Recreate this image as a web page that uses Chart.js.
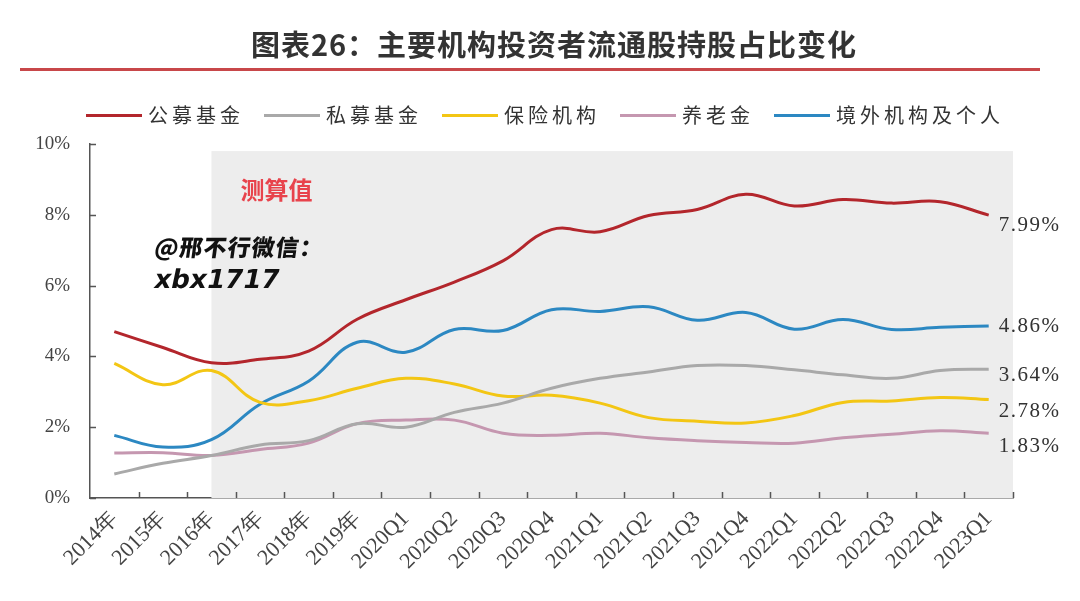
<!DOCTYPE html>
<html>
<head>
<meta charset="utf-8">
<script src="https://cdn.jsdelivr.net/npm/chart.js@4.4.1/dist/chart.umd.min.js"></script>
<style>
  html, body { margin:0; padding:0; background:#ffffff; }
  #wrap { position:relative; width:1080px; height:601px; overflow:hidden; }
  #c { position:absolute; left:0; top:0; }
  #title { position:absolute; left:14px; top:22px; width:1080px; text-align:center;
    font-family:"Noto Sans CJK SC"; font-weight:700; font-size:29px; color:#333; letter-spacing:1px; }
  #rule { position:absolute; left:20px; top:68px; width:1020px; height:3px; background:#c8474a; }
  #legend { position:absolute; left:0; top:102px; width:1090px; display:flex; justify-content:center; align-items:center;
    font-family:"Noto Sans CJK SC"; font-size:20px; color:#333; }
  .li { display:flex; align-items:center; margin:0 10px; }
  .ln { width:56px; height:3px; margin-right:6px; }
  .lt { letter-spacing:4px; line-height:26px; }
  .wm1 { position:absolute; left:155px; top:229px; font-family:"Noto Sans CJK SC"; font-weight:900; font-size:23px; color:#111;
    transform:skewX(-8deg); letter-spacing:1px; }
  .wm2 { position:absolute; left:155px; top:264px; font-family:"DejaVu Sans"; font-weight:900; font-size:26px; color:#111;
    transform:skewX(-12deg); letter-spacing:0px; }
</style>
</head>
<body>
<div id="wrap">
  <canvas id="c" width="1080" height="601"></canvas>
  <div id="title">图表26：主要机构投资者流通股持股占比变化</div>
  <div id="rule"></div>
  <div id="legend"></div>
  <div class="wm1">@邢不行微信：</div>
  <div class="wm2">xbx1717</div>
</div>
<script>
const categories = ['2014年','2015年','2016年','2017年','2018年','2019年','2020Q1','2020Q2','2020Q3','2020Q4','2021Q1','2021Q2','2021Q3','2021Q4','2022Q1','2022Q2','2022Q3','2022Q4','2023Q1'];
const seriesNames = ['公募基金','私募基金','保险机构','养老金','境外机构及个人'];
const publicFund  = [4.70, 4.25, 3.82, 3.92, 4.15, 5.05, 5.60, 6.10, 6.70, 7.58, 7.52, 7.98, 8.15, 8.58, 8.25, 8.43, 8.33, 8.37, 7.99];
const privateFund = [0.68, 0.98, 1.20, 1.50, 1.62, 2.10, 2.00, 2.42, 2.68, 3.10, 3.38, 3.56, 3.74, 3.74, 3.62, 3.48, 3.38, 3.60, 3.64];
const insurance   = [3.80, 3.20, 3.60, 2.70, 2.75, 3.10, 3.38, 3.22, 2.88, 2.90, 2.68, 2.27, 2.17, 2.12, 2.33, 2.70, 2.74, 2.84, 2.78];
const pension     = [1.27, 1.28, 1.20, 1.37, 1.55, 2.10, 2.20, 2.20, 1.83, 1.77, 1.83, 1.70, 1.62, 1.57, 1.55, 1.70, 1.80, 1.90, 1.83];
const foreignInv  = [1.77, 1.44, 1.65, 2.65, 3.30, 4.40, 4.12, 4.76, 4.73, 5.32, 5.27, 5.40, 5.02, 5.24, 4.77, 5.04, 4.76, 4.82, 4.86];
const yTicks = [0, 2, 4, 6, 8, 10];
const estimateLabel = '测算值';
const estimateStartIndex = 2;

const colors = ['#b3262c', '#a9a9a9', '#f3c614', '#c597b0', '#2c88c2'];
const endLabelOffsets = [10, 6, 12, 13, 1];
const seriesData = [publicFund, privateFund, insurance, pension, foreignInv];

const serif = '"Liberation Serif", "DejaVu Serif", serif';

const shadePlugin = {
  id: 'shade',
  beforeDatasetsDraw(chart) {
    const {ctx, chartArea, scales} = chart;
    const x0 = scales.x.getPixelForValue(estimateStartIndex);
    const yTop = scales.y.getPixelForValue(9.8);
    ctx.save();
    ctx.fillStyle = '#ededed';
    ctx.fillRect(x0, yTop, chartArea.right - x0, chartArea.bottom - yTop);
    ctx.fillStyle = '#e8434c';
    ctx.font = 'bold 24px "Noto Sans CJK SC"';
    ctx.textBaseline = 'middle';
    ctx.fillText(estimateLabel, x0 + 29, scales.y.getPixelForValue(8.7));
    ctx.restore();
  }
};

const tickPlugin = {
  id: 'innerTicks',
  afterDraw(chart) {
    const {ctx, chartArea, scales} = chart;
    ctx.save();
    ctx.strokeStyle = '#555';
    ctx.lineWidth = 1.5;
    ctx.beginPath();
    yTicks.forEach(v => {
      const py = Math.round(scales.y.getPixelForValue(v)) + 0.5;
      ctx.moveTo(chartArea.left, py);
      ctx.lineTo(chartArea.left + 6, py);
    });
    const n = categories.length;
    for (let i = 0; i < n; i++) {
      const px = i < n - 1
        ? (scales.x.getPixelForValue(i) + scales.x.getPixelForValue(i + 1)) / 2
        : chartArea.right;
      ctx.moveTo(Math.round(px) + 0.5, chartArea.bottom);
      ctx.lineTo(Math.round(px) + 0.5, chartArea.bottom - 6);
    }
    ctx.stroke();
    ctx.restore();
  }
};

const endLabelPlugin = {
  id: 'endLabels',
  afterDatasetsDraw(chart) {
    const {ctx} = chart;
    ctx.save();
    ctx.font = '21px ' + serif;
    ctx.fillStyle = '#333';
    ctx.textBaseline = 'middle';
    chart.data.datasets.forEach((ds, i) => {
      const meta = chart.getDatasetMeta(i);
      const last = meta.data[meta.data.length - 1];
      const v = ds.data[ds.data.length - 1];
      const txt = v.toFixed(2) + '%';
      ctx.letterSpacing = '1.5px';
      ctx.fillText(txt, last.x + 10, last.y + endLabelOffsets[i]);
    });
    ctx.restore();
  }
};

const chart = new Chart(document.getElementById('c'), {
  type: 'line',
  data: {
    labels: categories,
    datasets: seriesNames.map((name, i) => ({
      label: name,
      data: seriesData[i],
      borderColor: colors[i],
      backgroundColor: colors[i],
      borderWidth: 3,
      pointRadius: 0,
      tension: 0.4,
      fill: false
    }))
  },
  options: {
    responsive: false,
    animation: false,
    layout: { padding: { top: 144, left: 12, right: 0, bottom: 0 } },
    plugins: { legend: { display: false }, tooltip: { enabled: false }, title: { display: false } },
    scales: {
      x: {
        type: 'category',
        offset: true,
        grid: { display: false, drawTicks: false },
        border: { display: true, color: '#555', width: 1.5 },
        ticks: { autoSkip: false, minRotation: 45, maxRotation: 45, padding: 8,
          color: '#444', font: { family: serif, size: 22 } },
        afterFit(s) { s.height = 103; }
      },
      y: {
        min: 0, max: 10,
        afterBuildTicks(s) { s.ticks = yTicks.map(v => ({ value: v })); },
        grid: { display: false, drawTicks: false },
        border: { display: true, color: '#555', width: 1.5 },
        ticks: { padding: 20, color: '#444', font: { family: serif, size: 19 },
          callback: v => v + '%' },
        afterFit(s) { s.width = 78; }
      },
      y2: {
        position: 'right',
        display: true,
        grid: { display: false, drawTicks: false },
        border: { display: false },
        ticks: { display: false },
        afterFit(s) { s.width = 67; }
      }
    }
  },
  plugins: [shadePlugin, tickPlugin, endLabelPlugin]
});

const legend = document.getElementById('legend');
chart.data.datasets.forEach(ds => {
  const item = document.createElement('div');
  item.className = 'li';
  const ln = document.createElement('div');
  ln.className = 'ln';
  ln.style.background = ds.borderColor;
  const lt = document.createElement('span');
  lt.className = 'lt';
  lt.textContent = ds.label;
  item.appendChild(ln);
  item.appendChild(lt);
  legend.appendChild(item);
});
</script>
</body>
</html>
